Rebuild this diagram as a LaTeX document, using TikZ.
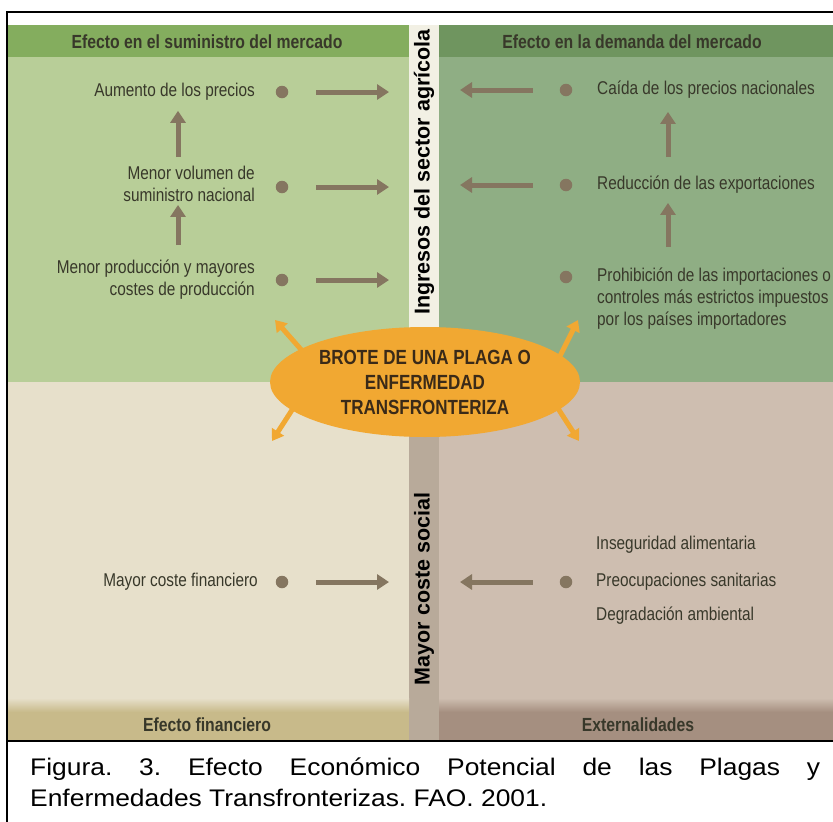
\documentclass[tikz,border=0pt]{standalone}
\usepackage{fontspec}
\setmainfont{Liberation Sans}
\newfontfamily\narrowfont[FakeStretch=0.83]{Liberation Sans}
\newfontfamily\widefont[FakeStretch=1.1]{Liberation Sans}
\usetikzlibrary{positioning,arrows.meta,shapes.geometric}
\hyphenpenalty=10000
\tolerance=10000
\frenchspacing

\definecolor{headleft}{HTML}{84AD5E}
\definecolor{headright}{HTML}{6F955F}
\definecolor{quadleft}{HTML}{B8CE98}
\definecolor{quadright}{HTML}{8FAE84}
\definecolor{stripup}{HTML}{F2F0E4}
\definecolor{stripdown}{HTML}{B8AA9A}
\definecolor{quadfin}{HTML}{E7E0CB}
\definecolor{footfin}{HTML}{C8BA8A}
\definecolor{quadext}{HTML}{CEBEB0}
\definecolor{footext}{HTML}{A58F80}
\definecolor{markbrown}{HTML}{857660}
\definecolor{burstorange}{HTML}{F1A832}
\definecolor{inkdark}{HTML}{38382A}
\definecolor{inkbrown}{HTML}{3A2A18}

\begin{document}
\begin{tikzpicture}[x=1pt,y=-1pt,
    effect/.style={font=\narrowfont\fontsize{18.5}{22}\selectfont, text=inkdark, inner sep=0pt},
    band/.style={font=\narrowfont\bfseries\fontsize{19}{22}\selectfont, text=inkdark, inner sep=0pt},
    side/.style={font=\bfseries\fontsize{21.5}{24}\selectfont, rotate=90, inner sep=0pt},
    dot/.style={circle, fill=markbrown, minimum size=12.5pt, inner sep=0pt},
    flow/.style={line width=5pt, markbrown, -{Triangle[length=12pt,width=15pt]}},
    burst/.style={line width=5pt, burstorange, -{Triangle[length=11pt,width=14pt]}},
  ]
  \useasboundingbox[fill=white] (0,0) rectangle (833,822);
  % four quadrants and the middle strip
  \fill[quadleft]  (8,25)    rectangle (409,382);
  \fill[quadright] (439,25)  rectangle (833,382);
  \fill[quadfin]   (8,382)   rectangle (409,741);
  \fill[quadext]   (439,382) rectangle (833,741);
  \fill[stripup]   (409,25)  rectangle (439,382);
  \fill[stripdown] (409,382) rectangle (439,741);
  % header and footer bands
  \fill[headleft]  (8,25)    rectangle (409,57);
  \fill[headright] (439,25)  rectangle (833,57);
  \fill[footfin]   (8,708)   rectangle (409,741);
  \fill[footext]   (439,708) rectangle (833,741);
  \shade[top color=quadfin, bottom color=footfin] (8,698) rectangle (409,712);
  \shade[top color=quadext, bottom color=footext] (439,698) rectangle (833,712);
  % frame
  \draw[line width=2pt] (7,822) -- (7,12) -- (833,12);
  \draw[line width=2pt] (7,741) -- (833,741);

  % band titles
  \node[band] (supplyband) at (207,42)  {Efecto en el suministro del mercado};
  \node[band] (demandband) at (632,42)  {Efecto en la demanda del mercado};
  \node[band] (finband)    at (207,725) {Efecto financiero};
  \node[band] (extband)    at (638,725) {Externalidades};
  \node[side] (income) at (424,172) {Ingresos del sector agrícola};
  \node[side] (social) at (424,589) {Mayor coste social};

  % supply side
  \node[effect, anchor=east, align=right] (prices) at (255,92)  {Aumento de los precios};
  \node[effect, anchor=east, align=right] (volume) at (255,184) {Menor volumen de\\suministro nacional};
  \node[effect, anchor=east, align=right] (output) at (255,280) {Menor producción y mayores\\costes de producción};
  \node[effect, anchor=east] (fincost) at (258,582) {Mayor coste financiero};

  % demand side
  \node[effect, anchor=west] (pricefall) at (597,90)  {Caída de los precios nacionales};
  \node[effect, anchor=west] (exports)   at (597,185) {Reducción de las exportaciones};
  \node[effect, anchor=west, align=left] (bans) at (597,299)
    {Prohibición de las importaciones o\\controles más estrictos impuestos\\por los países importadores};
  \node[effect, anchor=west] (food)    at (596,545) {Inseguridad alimentaria};
  \node[effect, anchor=west] (health)  at (596,582) {Preocupaciones sanitarias};
  \node[effect, anchor=west] (environ) at (596,616) {Degradación ambiental};

  % bullets
  \foreach \n/\x/\y in {a/282/92, b/282/187, c/282/280, d/282/582,
                        e/566/90, f/566/185, g/566/277, h/566/582}
    \node[dot] (dot\n) at (\x,\y) {};

  % arrows towards the strip
  \foreach \n/\y in {a/92, b/187, c/280, d/582}{
    \coordinate (strip\n) at (389,\y);
    \draw[flow, shorten <=28pt] (dot\n) -- (strip\n);
  }
  \foreach \n/\y in {e/90, f/185, h/582}{
    \coordinate (strip\n) at (460,\y);
    \draw[flow, shorten <=27pt] (dot\n) -- (strip\n);
  }

  % chains
  \coordinate (upl) at (178,0);
  \coordinate (upr) at (668,0);
  \draw[flow, shorten <=9pt, shorten >=10pt] (volume.north -| upl) -- (prices.south -| upl);
  \draw[flow, shorten <=15pt, shorten >=3pt] (output.north -| upl) -- (volume.south -| upl);
  \draw[flow, shorten <=19pt, shorten >=13pt] (exports.north -| upr) -- (pricefall.south -| upr);
  \draw[flow, shorten <=21pt, shorten >=9pt] (bans.north -| upr) -- (exports.south -| upr);

  % outbreak in the middle
  \foreach \n/\bx/\by/\tx/\ty in {nw/305/354/275/320, sw/303/393/272/441,
                                  ne/560/356/578/320, se/548/393/579/441}{
    \coordinate (\n base) at (\bx,\by);
    \coordinate (\n tip) at (\tx,\ty);
    \draw[burst] (\n base) -- (\n tip);
  }
  \node[ellipse, fill=burstorange, minimum width=310pt, minimum height=110pt, inner sep=0pt,
        align=center, text=inkbrown,
        font=\narrowfont\bfseries\fontsize{20.5}{25}\selectfont] (outbreak) at (425,382)
    {BROTE DE UNA PLAGA O\\ENFERMEDAD\\TRANSFRONTERIZA};

  % caption
  \node[anchor=north west, text width=790pt, align=justify, inner sep=0pt,
        font=\widefont\fontsize{24}{31}\selectfont] (caption) at (30,757.5)
    {Figura. 3. Efecto Económico Potencial de las Plagas y Enfermedades Transfronterizas. FAO. 2001.};
\end{tikzpicture}
\end{document}
